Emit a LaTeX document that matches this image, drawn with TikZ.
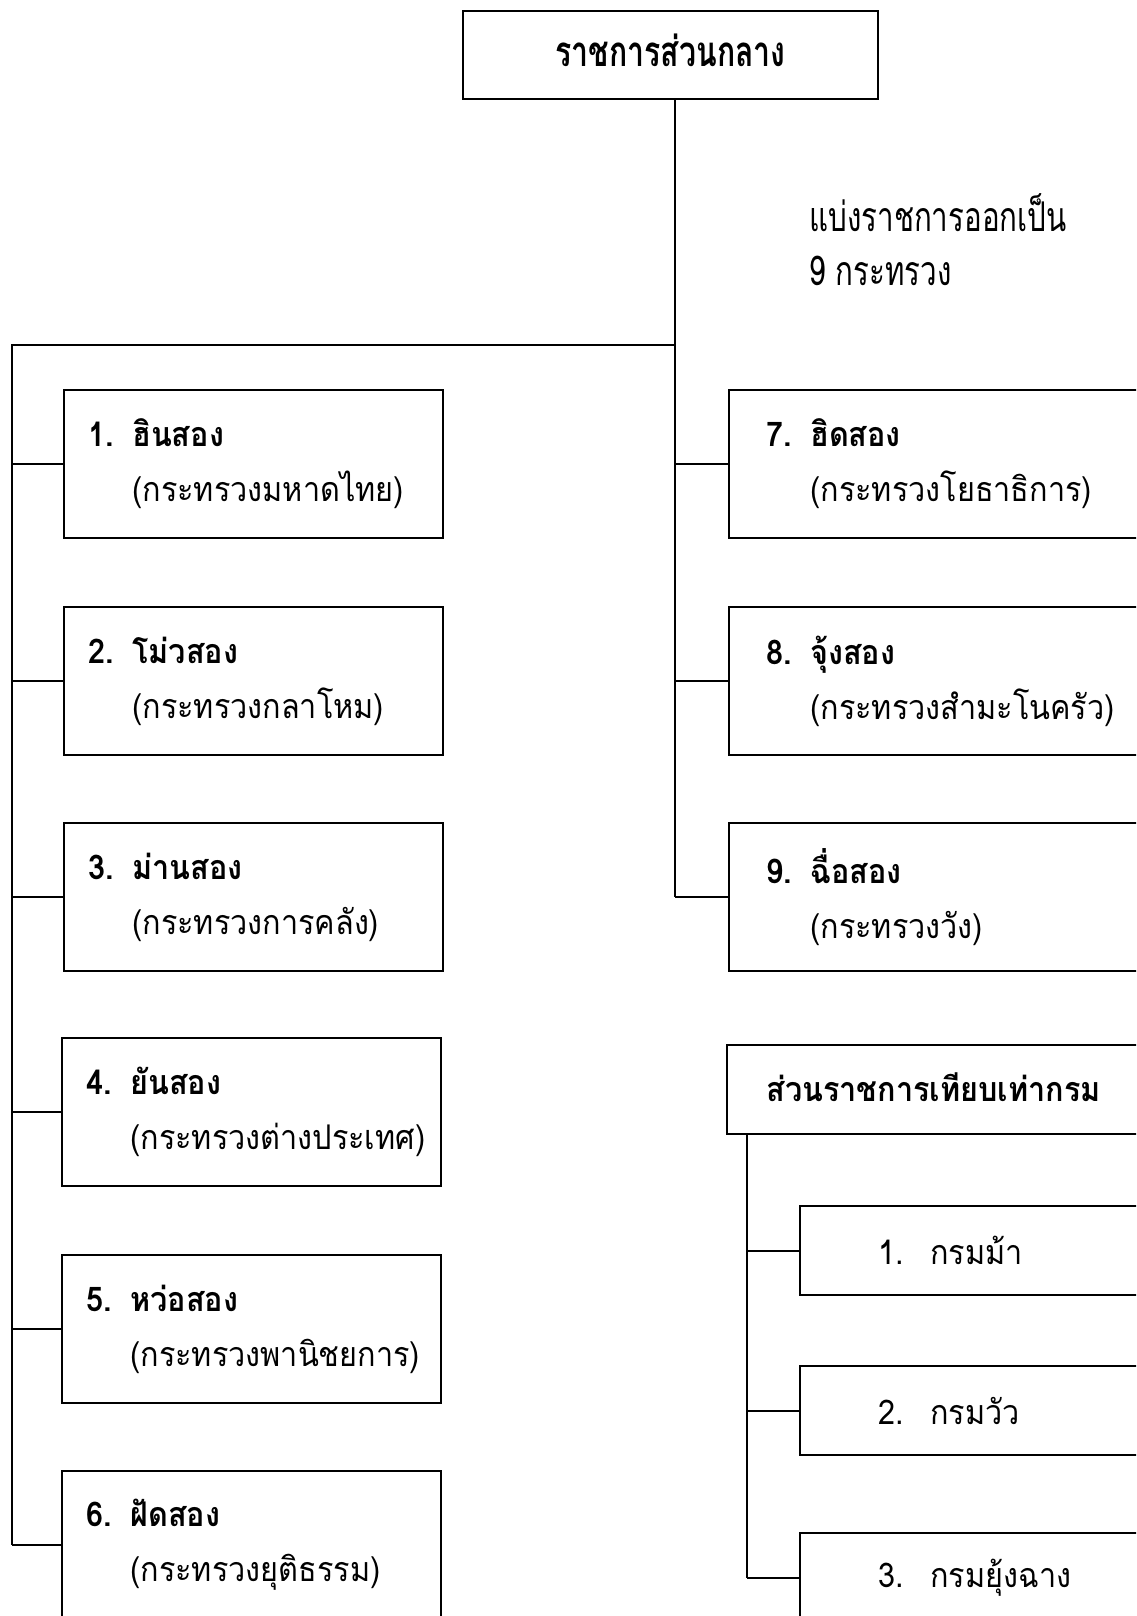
\documentclass[tikz,border=0pt]{standalone}
\usepackage{fontspec}
\setmainfont[Script=Thai,FakeStretch=0.9]{Loma}
\newfontfamily\condfont[Script=Thai,FakeStretch=0.72]{Loma}
\newcommand\numb[1]{\makebox[22pt][l]{#1}}
\newcommand\numc[1]{\makebox[26pt][l]{#1}}
\begin{document}
\begin{tikzpicture}[x=0.5pt,y=-0.5pt,
  box/.style={draw, line width=1.1pt, rectangle, anchor=north west, inner sep=0pt},
  lbox/.style={box, minimum width=189.5pt, minimum height=74pt},
  rbox/.style={box, minimum width=225pt, minimum height=74pt},
  sbox/.style={box, minimum width=200pt, minimum height=44.5pt},
  conn/.style={line width=0.9pt},
  txt/.style={anchor=west, align=left, inner sep=0pt, font=\fontsize{17}{27.5}\selectfont}]
\useasboundingbox (0,0) rectangle (1136,1616);
\begin{scope}
\clip (0,0) rectangle (1136,1616);
% top
\node[box, minimum width=207.5pt, minimum height=44pt] (top) at (462,10) {};
\node[inner sep=0pt, font=\condfont\bfseries\fontsize{21}{26}\selectfont] (toptxt) at ([yshift=2.5pt]top.center) {ราชการส่วนกลาง};
\node[anchor=west, align=left, inner sep=0pt, font=\condfont\fontsize{20.5}{27}\selectfont] (note) at (809,240) {แบ่งราชการออกเป็น\\9 กระทรวง};
% left boxes
\node[lbox] (b1) at (63,389) {};
\node[lbox] (b2) at (63,606) {};
\node[lbox] (b3) at (63,822) {};
\node[lbox] (b4) at (61,1037) {};
\node[lbox] (b5) at (61,1254) {};
\node[lbox] (b6) at (61,1470) {};
\node[txt] (t1) at ([xshift=12.5pt]b1.west) {\textbf{\numb{1.}ฮินสอง}\\\hspace*{22pt}(กระทรวงมหาดไทย)};
\node[txt] (t2) at ([xshift=12.5pt]b2.west) {\textbf{\numb{2.}โม่วสอง}\\\hspace*{22pt}(กระทรวงกลาโหม)};
\node[txt] (t3) at ([xshift=12.5pt]b3.west) {\textbf{\numb{3.}ม่านสอง}\\\hspace*{22pt}(กระทรวงการคลัง)};
\node[txt] (t4) at ([xshift=12.5pt]b4.west) {\textbf{\numb{4.}ยันสอง}\\\hspace*{22pt}(กระทรวงต่างประเทศ)};
\node[txt] (t5) at ([xshift=12.5pt]b5.west) {\textbf{\numb{5.}หว่อสอง}\\\hspace*{22pt}(กระทรวงพานิชยการ)};
\node[txt] (t6) at ([xshift=12.5pt]b6.west) {\textbf{\numb{6.}ฝัดสอง}\\\hspace*{22pt}(กระทรวงยุติธรรม)};
% right boxes
\node[rbox] (r7) at (728,389) {};
\node[rbox] (r8) at (728,606) {};
\node[rbox] (r9) at (728,822) {};
\node[txt] (t7) at ([xshift=19pt]r7.west) {\textbf{\numb{7.}ฮิดสอง}\\\hspace*{22pt}(กระทรวงโยธาธิการ)};
\node[txt] (t8) at ([xshift=19pt]r8.west) {\textbf{\numb{8.}จุ้งสอง}\\\hspace*{22pt}(กระทรวงสำมะโนครัว)};
\node[txt] (t9) at ([xshift=19pt]r9.west) {\textbf{\numb{9.}ฉื่อสอง}\\\hspace*{22pt}(กระทรวงวัง)};
% equivalent departments
\node[box, minimum width=225pt, minimum height=44.5pt] (h2) at (726,1044) {};
\node[txt] (th2) at ([xshift=20pt,yshift=1pt]h2.west) {\textbf{ส่วนราชการเทียบเท่ากรม}};
\node[sbox] (s1) at (799,1205) {};
\node[sbox] (s2) at (799,1365) {};
\node[sbox] (s3) at (799,1532) {};
\node[txt] (ts1) at ([xshift=39.5pt]s1.west) {\numc{1.}กรมม้า};
\node[txt] (ts2) at ([xshift=39.5pt]s2.west) {\numc{2.}กรมวัว};
\node[txt] (ts3) at ([xshift=39.5pt]s3.west) {\numc{3.}กรมยุ้งฉาง};
% connectors
\coordinate (tk) at (675,345);
\coordinate (lb) at (12,345);
\coordinate (vx) at (747,0);
\draw[conn] (top.south -| tk) -- (tk |- r9.west);
\draw[conn] (tk) -- (lb) -- (lb |- b6.west);
\foreach \b in {b1,b2,b3,b4,b5,b6} \draw[conn] (lb |- \b.west) -- (\b.west);
\foreach \b in {r7,r8,r9} \draw[conn] (tk |- \b.west) -- (\b.west);
\draw[conn] (h2.south -| vx) -- (vx |- s3.west);
\foreach \b in {s1,s2,s3} \draw[conn] (vx |- \b.west) -- (\b.west);
\end{scope}
\end{tikzpicture}
\end{document}
